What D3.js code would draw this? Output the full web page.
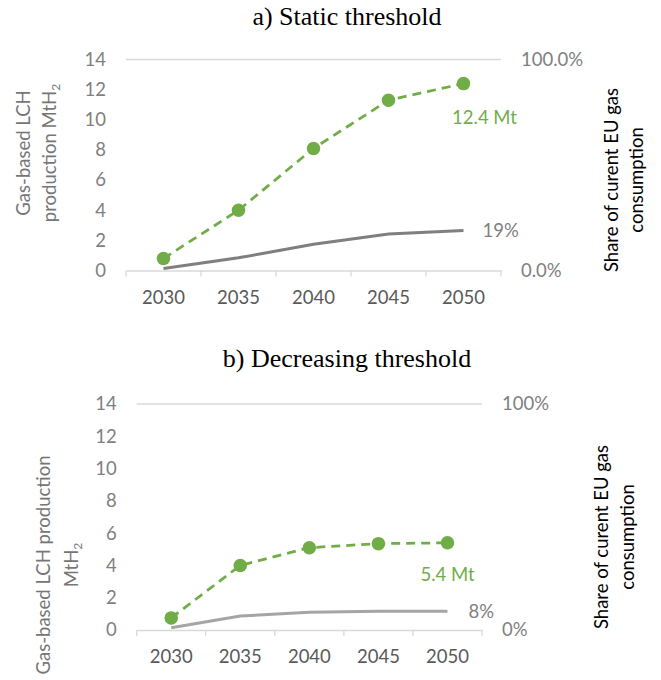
<!DOCTYPE html>
<html>
<head>
<meta charset="utf-8">
<script src="https://cdn.jsdelivr.net/npm/d3@7"></script>
<style>
  body { margin: 0; background: #fff; }
  svg { display: block; }
</style>
</head>
<body>
<svg id="chart" width="661" height="680"></svg>
<script>
// Years on the category axis
const years = ["2030", "2035", "2040", "2045", "2050"];

// a) Static threshold: gas-based LCH production (MtH2) and share of EU gas use (%)
const staticMt = [0.8, 4.0, 8.1, 11.3, 12.4];
const staticShare = [0.9, 6.0, 12.4, 17.3, 19.0];

// b) Decreasing threshold
const decreasingMt = [0.75, 4.0, 5.1, 5.35, 5.4];
const decreasingShare = [1.0, 6.2, 7.8, 8.3, 8.3];

// Axis ticks
const leftTicks = [0, 2, 4, 6, 8, 10, 12, 14];
const rightTicks = [0, 100];
const rightTickLabelsA = ["0.0%", "100.0%"];
const rightTickLabelsB = ["0%", "100%"];

const FONT = "Lato, 'Open Sans', sans-serif";
const FS = 18.5;
const GREEN = "#70ad47";
const AXIS = "#d9d9d9";

const svg = d3.select("#chart");

const panels = [
  {
    title: "a) Static threshold", titleY: 25,
    mt: staticMt, share: staticShare, rightLabels: rightTickLabelsA,
    xr: [126, 501], yr: [270.5, 59.5],
    shareColor: "#7f7f7f",
    leftTitle: [[{ t: "Gas-based LCH" }], [{ t: "production MtH" }, { t: "2", sub: true }]],
    leftX: [24, 50], leftY: 153,
    rightX: [612, 637], rightY: 180,
    mtLabel: { dx: 21, dy: 34, anchor: "middle" },
    shareLabel: { dx: 19, dy: 0 }
  },
  {
    title: "b) Decreasing threshold", titleY: 366.5,
    mt: decreasingMt, share: decreasingShare, rightLabels: rightTickLabelsB,
    xr: [136.7, 482], yr: [630, 404],
    shareColor: "#a5a5a5",
    leftTitle: [[{ t: "Gas-based LCH production" }], [{ t: "MtH" }, { t: "2", sub: true }]],
    leftX: [44, 72], leftY: 565,
    rightX: [602, 628], rightY: 537,
    mtLabel: { dx: 0, dy: 31.5, anchor: "middle" },
    shareLabel: { dx: 21, dy: 0 }
  }
];

panels.forEach(p => {
  const g = svg.append("g");

  const x = d3.scaleBand().domain(years).range(p.xr);
  const y = d3.scaleLinear().domain([0, 14]).range(p.yr);
  const y2 = d3.scaleLinear().domain([0, 100]).range(p.yr);
  const cx = d => x(d) + x.bandwidth() / 2;

  // Panel title
  g.append("text")
    .attr("x", 347).attr("y", p.titleY)
    .attr("text-anchor", "middle")
    .attr("font-family", "'Liberation Serif', 'Times New Roman', serif")
    .attr("font-size", 26).attr("fill", "#000")
    .text(p.title);

  // Top gridline at the axis maximum
  g.append("line")
    .attr("x1", p.xr[0]).attr("x2", p.xr[1])
    .attr("y1", y(14)).attr("y2", y(14))
    .attr("stroke", AXIS).attr("stroke-width", 1.3);

  // Left value axis
  const left = g.append("g")
    .attr("transform", `translate(${p.xr[0]},0)`)
    .call(d3.axisLeft(y).tickValues(leftTicks).tickSize(0).tickPadding(20));
  left.select(".domain").remove();
  left.selectAll("text")
    .attr("font-family", FONT).attr("font-size", FS).attr("fill", "#808080");

  // Right share axis
  const right = g.append("g")
    .attr("transform", `translate(${p.xr[1]},0)`)
    .call(d3.axisRight(y2).tickValues(rightTicks).tickSize(0).tickPadding(20)
      .tickFormat((d, i) => p.rightLabels[i]));
  right.select(".domain").remove();
  right.selectAll("text")
    .attr("font-family", FONT).attr("font-size", FS).attr("fill", "#808080");

  // Category axis
  const bottom = g.append("g")
    .attr("transform", `translate(0,${y(0)})`)
    .call(d3.axisBottom(x).tickSize(0).tickPadding(20));
  bottom.select(".domain")
    .attr("stroke", AXIS).attr("stroke-width", 1.3);
  bottom.selectAll("text")
    .attr("font-family", FONT).attr("font-size", FS).attr("fill", "#595959");

  // Tick marks between categories
  const bounds = years.map(d => x(d)).concat([x(years[years.length - 1]) + x.bandwidth()]);
  g.selectAll(null).data(bounds).enter().append("line")
    .attr("x1", d => d).attr("x2", d => d)
    .attr("y1", y(0)).attr("y2", y(0) + 6)
    .attr("stroke", AXIS).attr("stroke-width", 1.3);

  // Share of gas consumption (solid grey, right axis)
  g.append("path")
    .datum(p.share)
    .attr("fill", "none")
    .attr("stroke", p.shareColor).attr("stroke-width", 3)
    .attr("d", d3.line().x((d, i) => cx(years[i])).y(d => y2(d)));

  // LCH production (dashed green with markers, left axis)
  g.append("path")
    .datum(p.mt)
    .attr("fill", "none")
    .attr("stroke", GREEN).attr("stroke-width", 2.75)
    .attr("stroke-dasharray", "9 6")
    .attr("d", d3.line().x((d, i) => cx(years[i])).y(d => y(d)));

  g.selectAll(null).data(p.mt).enter().append("circle")
    .attr("cx", (d, i) => cx(years[i])).attr("cy", d => y(d))
    .attr("r", 6.75).attr("fill", GREEN);

  // End-of-series value labels
  const last = years.length - 1;
  g.append("text")
    .attr("x", cx(years[last]) + p.mtLabel.dx)
    .attr("y", y(p.mt[last]) + p.mtLabel.dy)
    .attr("dy", "0.35em")
    .attr("text-anchor", p.mtLabel.anchor)
    .attr("font-family", FONT).attr("font-size", FS).attr("fill", GREEN)
    .text(`${p.mt[last].toFixed(1)} Mt`);

  g.append("text")
    .attr("x", cx(years[last]) + p.shareLabel.dx)
    .attr("y", y2(p.share[last]) + p.shareLabel.dy)
    .attr("dy", "0.35em")
    .attr("font-family", FONT).attr("font-size", FS).attr("fill", "#7f7f7f")
    .text(`${Math.round(p.share[last])}%`);

  // Left axis title (two rotated lines)
  p.leftTitle.forEach((segs, li) => {
    const t = g.append("text")
      .attr("transform", `translate(${p.leftX[li]},${p.leftY}) rotate(-90)`)
      .attr("text-anchor", "middle")
      .attr("dy", "0.35em")
      .attr("font-family", FONT).attr("font-size", FS).attr("fill", "#767676");
    segs.forEach(s => {
      const ts = t.append("tspan").text(s.t);
      if (s.sub) ts.attr("font-size", FS * 0.65).attr("dy", "0.3em");
    });
  });

  // Right axis title
  ["Share of curent EU gas", "consumption"].forEach((line, li) => {
    g.append("text")
      .attr("transform", `translate(${p.rightX[li]},${p.rightY}) rotate(-90)`)
      .attr("text-anchor", "middle")
      .attr("dy", "0.35em")
      .attr("font-family", FONT).attr("font-size", FS).attr("fill", "#000")
      .text(line);
  });
});
</script>
</body>
</html>
